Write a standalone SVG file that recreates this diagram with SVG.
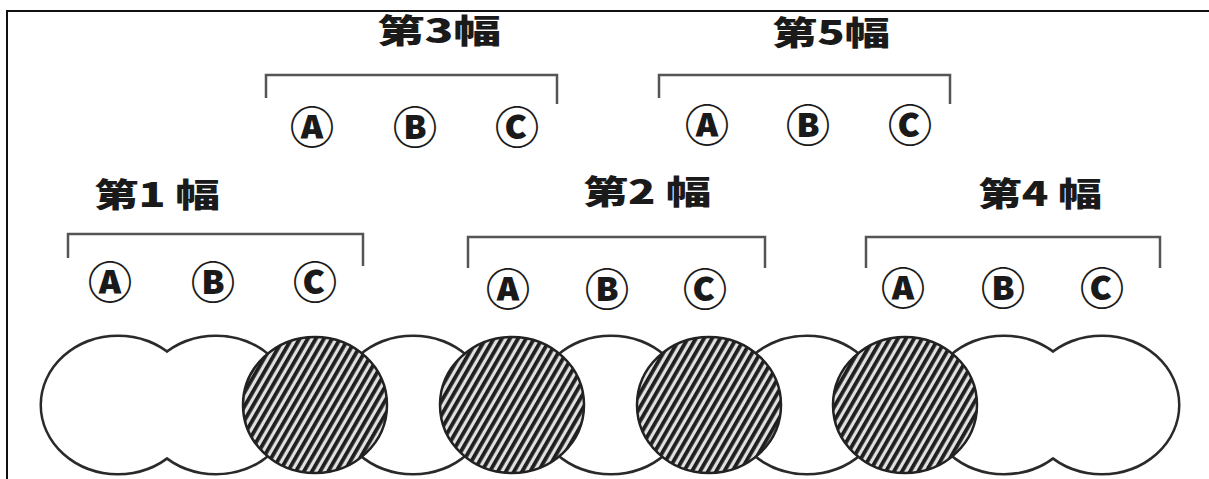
<svg xmlns="http://www.w3.org/2000/svg" width="1209" height="479" viewBox="0 0 1209 479">
<defs>
<style>
.lbl{font-family:"Noto Sans CJK SC","Liberation Sans",sans-serif;font-weight:900;font-size:33px;fill:#1a1a1a}
.cl{font-family:"Noto Sans CJK SC","DejaVu Sans",sans-serif;font-weight:900;font-size:44px;fill:#1a1a1a;text-anchor:middle}
.br{fill:none;stroke:#555;stroke-width:2.5}
.ol{fill:none;stroke:#2a2a2a;stroke-width:5}
.wf{fill:#fff;stroke:none}
.ht{fill:url(#hatch);stroke:#222;stroke-width:2.5}
</style>
<pattern id="hatch" patternUnits="userSpaceOnUse" width="7" height="7" patternTransform="rotate(30)">
<rect width="7" height="7" fill="#e0e0e0"/>
<rect width="3.8" height="7" fill="#1e1e1e"/>
</pattern>
</defs>
<rect width="1209" height="479" fill="#fff"/>
<path d="M7,479 V11 H1209" fill="none" stroke="#111" stroke-width="2"/>

<g id="connectors">
<path class="br" d="M68,258 V234 H363 V266"/>
<path class="br" d="M468,268 V237 H765 V268"/>
<path class="br" d="M866,268 V237 H1160 V268"/>
<path class="br" d="M266,98 V75 H557 V104"/>
<path class="br" d="M659,98 V75 H950 V104"/>
</g>

<g id="group1">
<text class="lbl" x="94" y="207" textLength="126" lengthAdjust="spacingAndGlyphs">第1 幅</text>
<text class="cl" x="110" y="299">Ⓐ</text>
<text class="cl" x="213" y="299">Ⓑ</text>
<text class="cl" x="315" y="299">Ⓒ</text>
</g>
<g id="group2">
<text class="lbl" x="583" y="204" textLength="128" lengthAdjust="spacingAndGlyphs">第2 幅</text>
<text class="cl" x="508" y="306">Ⓐ</text>
<text class="cl" x="607" y="306">Ⓑ</text>
<text class="cl" x="705" y="306">Ⓒ</text>
</g>
<g id="group4">
<text class="lbl" x="978" y="206" textLength="124" lengthAdjust="spacingAndGlyphs">第4 幅</text>
<text class="cl" x="903" y="305">Ⓐ</text>
<text class="cl" x="1003" y="305">Ⓑ</text>
<text class="cl" x="1102" y="305">Ⓒ</text>
</g>
<g id="group3">
<text class="lbl" x="377" y="43" textLength="124" lengthAdjust="spacingAndGlyphs">第3幅</text>
<text class="cl" x="312" y="144">Ⓐ</text>
<text class="cl" x="415" y="144">Ⓑ</text>
<text class="cl" x="517" y="144">Ⓒ</text>
</g>
<g id="group5">
<text class="lbl" x="772" y="45" textLength="118" lengthAdjust="spacingAndGlyphs">第5幅</text>
<text class="cl" x="707" y="142">Ⓐ</text>
<text class="cl" x="808" y="142">Ⓑ</text>
<text class="cl" x="910" y="142">Ⓒ</text>
</g>

<g id="circles">
<ellipse class="ol" cx="118" cy="405" rx="76" ry="68"/>
<ellipse class="ol" cx="216" cy="405" rx="76" ry="68"/>
<ellipse class="ol" cx="413" cy="405" rx="76" ry="68"/>
<ellipse class="ol" cx="611" cy="405" rx="76" ry="68"/>
<ellipse class="ol" cx="807" cy="405" rx="76" ry="68"/>
<ellipse class="ol" cx="1004" cy="405" rx="76" ry="68"/>
<ellipse class="ol" cx="1102" cy="405" rx="76" ry="68"/>
<ellipse class="wf" cx="118" cy="405" rx="76" ry="68"/>
<ellipse class="wf" cx="216" cy="405" rx="76" ry="68"/>
<ellipse class="wf" cx="413" cy="405" rx="76" ry="68"/>
<ellipse class="wf" cx="611" cy="405" rx="76" ry="68"/>
<ellipse class="wf" cx="807" cy="405" rx="76" ry="68"/>
<ellipse class="wf" cx="1004" cy="405" rx="76" ry="68"/>
<ellipse class="wf" cx="1102" cy="405" rx="76" ry="68"/>
<ellipse class="ht" cx="315" cy="405" rx="72" ry="68"/>
<ellipse class="ht" cx="512" cy="405" rx="72" ry="68"/>
<ellipse class="ht" cx="709" cy="405" rx="72" ry="68"/>
<ellipse class="ht" cx="905" cy="405" rx="72" ry="68"/>
</g>
</svg>
